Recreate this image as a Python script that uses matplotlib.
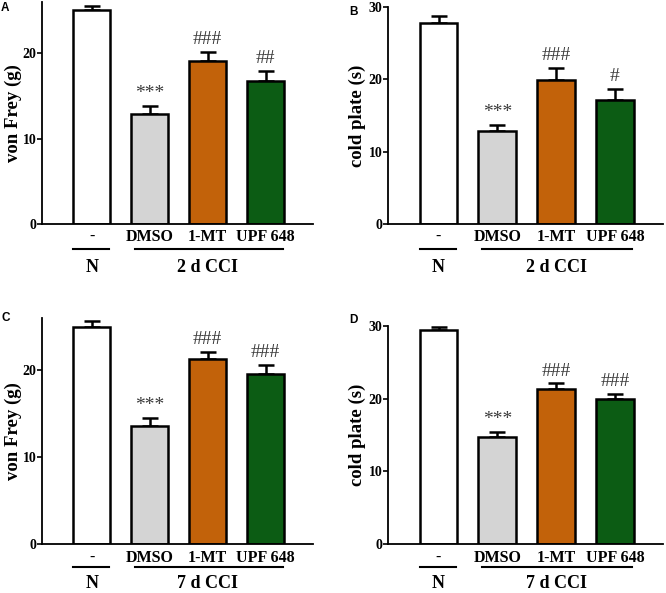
import matplotlib
matplotlib.use("Agg")
import matplotlib.pyplot as plt
from matplotlib.transforms import blended_transform_factory

# ---- data ----
groups = ["-", "DMSO", "1-MT", "UPF 648"]
bar_colors = ["#ffffff", "#d4d4d4", "#c2620a", "#0c5c14"]

vf_2d = [25.1, 12.9, 19.1, 16.8]
vf_2d_err = [0.4, 0.9, 1.0, 1.1]
cp_2d = [27.8, 12.9, 19.9, 17.2]
cp_2d_err = [1.0, 0.8, 1.7, 1.5]
vf_7d = [25.0, 13.6, 21.3, 19.6]
vf_7d_err = [0.7, 0.9, 0.8, 1.0]
cp_7d = [29.5, 14.7, 21.3, 19.9]
cp_7d_err = [0.4, 0.7, 0.8, 0.8]

sig_2d_vf = ["", "***", "###", "##"]
sig_2d_cp = ["", "***", "###", "#"]
sig_7d_vf = ["", "***", "###", "###"]
sig_7d_cp = ["", "***", "###", "###"]

W, H = 666, 593
fig = plt.figure(figsize=(W / 100, H / 100), dpi=100)
plt.rcParams["font.family"] = ["Liberation Serif", "DejaVu Serif"]


def px_axes(left, right, top, bottom):
    return fig.add_axes([left / W, 1 - bottom / H, (right - left) / W, (bottom - top) / H])


panels = [
    dict(box=(42, 313, 2, 224), vals=vf_2d, err=vf_2d_err, sig=sig_2d_vf, ylim=26,
         yticks=[0, 10, 20], ylabel="von Frey (g)", day="2 d CCI", letter="A", lpos=(1, 8),
         offs=(13, 25, 43), ylx=29),
    dict(box=(388, 663, 7, 224), vals=cp_2d, err=cp_2d_err, sig=sig_2d_cp, ylim=30,
         yticks=[0, 10, 20, 30], ylabel="cold plate (s)", day="2 d CCI", letter="B", lpos=(349, 12),
         offs=(13, 25, 43), ylx=31),
    dict(box=(42, 313, 318, 544), vals=vf_7d, err=vf_7d_err, sig=sig_7d_vf, ylim=26,
         yticks=[0, 10, 20], ylabel="von Frey (g)", day="7 d CCI", letter="C", lpos=(2, 318),
         offs=(14, 23, 39), ylx=29),
    dict(box=(388, 663, 326, 544), vals=cp_7d, err=cp_7d_err, sig=sig_7d_cp, ylim=30,
         yticks=[0, 10, 20, 30], ylabel="cold plate (s)", day="7 d CCI", letter="D", lpos=(349, 320),
         offs=(14, 23, 39), ylx=31),
]

x = list(range(len(groups)))
for p in panels:
    l, r, t, b = p["box"]
    ax = px_axes(l, r, t, b)
    ax.bar(x, p["vals"], width=0.64, color=bar_colors, edgecolor="black", linewidth=1.8, zorder=2)
    ax.errorbar(x, p["vals"], yerr=[[0] * 4, p["err"]], fmt="none", ecolor="black",
                elinewidth=1.8, capsize=5.5, capthick=1.8, zorder=1)
    ax.set_xlim(-0.86, 3.82)
    ax.set_ylim(0, p["ylim"])
    ax.set_yticks(p["yticks"])
    ax.set_yticklabels([str(v) for v in p["yticks"]], fontsize=10, fontweight="bold")
    ax.tick_params(axis="y", length=3.5, width=1.2, pad=0.5)
    ax.set_xticks([])
    for s in ["top", "right"]:
        ax.spines[s].set_visible(False)
    for s in ["left", "bottom"]:
        ax.spines[s].set_linewidth(1.3)
    ax.set_ylabel(p["ylabel"], fontsize=13.5, fontweight="bold")
    ax.yaxis.set_label_coords(-p["ylx"] / (r - l), 0.5)
    ax.yaxis.label.set_va("center")
    for xi, v, e, s in zip(x, p["vals"], p["err"], p["sig"]):
        if s:
            ax.text(xi, v + e + 0.5, s, ha="center", va="bottom", fontsize=14, color="#3a3a3a")
    # tick labels and group labels beneath
    tr = blended_transform_factory(ax.transData, ax.transAxes)
    hax = b - t
    o1, o2, o3 = p["offs"]
    for xi, g in zip(x, groups):
        ax.text(xi, -o1 / hax, g, transform=tr, ha="center", va="center",
                fontsize=11.5, fontweight="bold")
    ly = -o2 / hax
    ax.plot([-0.32, 0.3], [ly, ly], transform=tr, color="black", lw=1.5, clip_on=False)
    ax.plot([0.74, 3.3], [ly, ly], transform=tr, color="black", lw=1.5, clip_on=False)
    ax.text(0, -o3 / hax, "N", transform=tr, ha="center", va="center", fontsize=13, fontweight="bold")
    ax.text(2.0, -o3 / hax, p["day"], transform=tr, ha="center", va="center", fontsize=13,
            fontweight="bold")
    fig.text(p["lpos"][0] / W, 1 - p["lpos"][1] / H, p["letter"], fontsize=8.5,
             fontweight="bold", family=["Liberation Sans", "DejaVu Sans"], va="center", ha="left")

fig.savefig("out.png", dpi=100)
